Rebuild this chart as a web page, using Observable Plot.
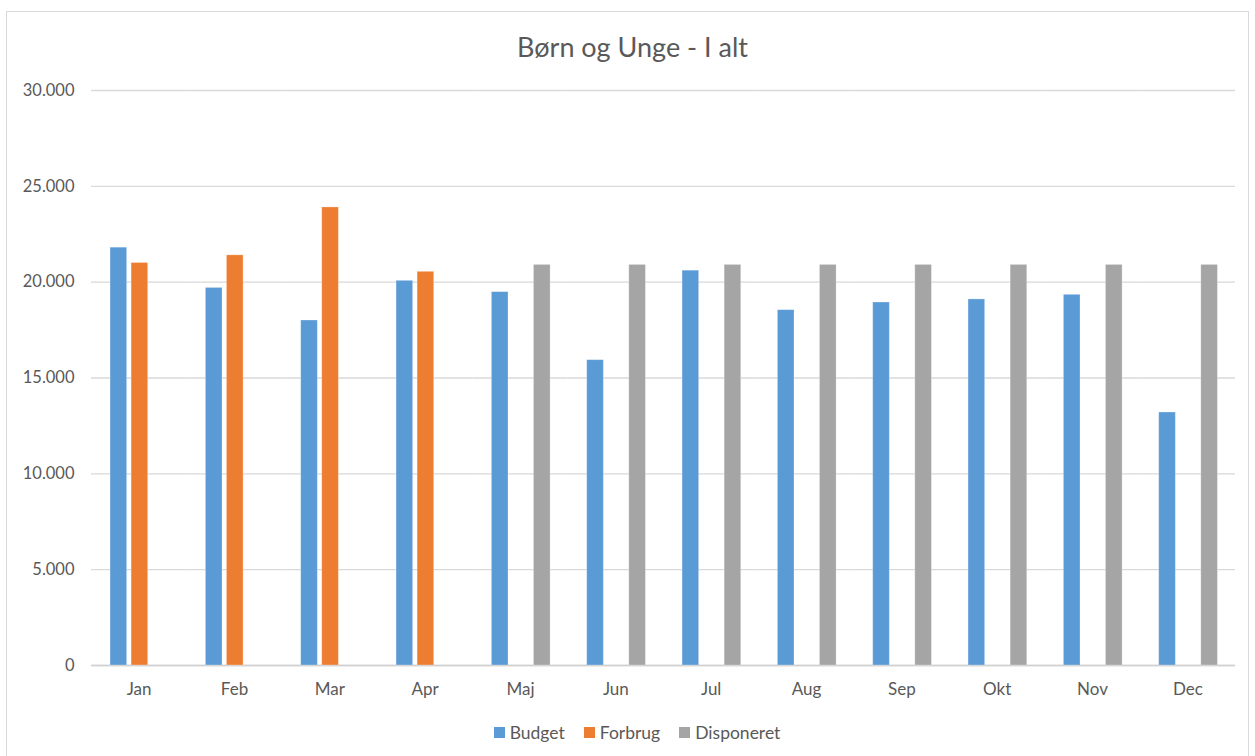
<!DOCTYPE html>
<html>
<head>
<meta charset="utf-8">
<script src="https://cdn.jsdelivr.net/npm/d3@7"></script>
<script src="https://cdn.jsdelivr.net/npm/@observablehq/plot@0.6"></script>
<style>
  html, body { margin: 0; padding: 0; background: #fff; }
  body { width: 1255px; height: 756px; position: relative; overflow: hidden; font-family: Lato, "Open Sans", sans-serif; color: #595959; }
  #frame { position: absolute; left: 6px; top: 11px; width: 1243px; height: 750px; border: 1px solid #d9d9d9; box-sizing: border-box; }
  #title { position: absolute; left: 0; top: 31px; width: 1255px; padding-left: 10px; box-sizing: border-box; text-align: center; font-size: 27px; line-height: 32px; color: #595959; }
  #chart { position: absolute; left: 0; top: 80px; }
  #legend { position: absolute; left: 0; top: 716px; width: 1255px; padding-left: 38px; box-sizing: border-box; display: flex; justify-content: center; }
  .lg-swatch { margin-right: 19px !important; }
  .lg-swatch > svg { margin-right: 5px !important; }
</style>
</head>
<body>
<div id="frame"></div>
<div id="title">Børn og Unge - I alt</div>
<div id="chart"></div>
<div id="legend"></div>
<script>
const months = ["Jan", "Feb", "Mar", "Apr", "Maj", "Jun", "Jul", "Aug", "Sep", "Okt", "Nov", "Dec"];
const series = ["Budget", "Forbrug", "Disponeret"];
const colors = ["#5B9BD5", "#ED7D31", "#A5A5A5"];
const budget = [21800, 19700, 18000, 20070, 19480, 15930, 20600, 18540, 18940, 19100, 19340, 13200];
const forbrug = [21000, 21400, 23900, 20540, null, null, null, null, null, null, null, null];
const disponeret = [null, null, null, null, 20900, 20900, 20900, 20900, 20900, 20900, 20900, 20900];
const yTicks = [0, 5000, 10000, 15000, 20000, 25000, 30000];

const values = { Budget: budget, Forbrug: forbrug, Disponeret: disponeret };
const data = [];
months.forEach((m, i) => {
  series.forEach(s => {
    const v = values[s][i];
    if (v != null) data.push({ month: m, series: s, value: v });
  });
});

const locale = d3.formatLocale({ decimal: ",", thousands: ".", grouping: [3], currency: ["", " kr."] });
const fmt = locale.format(",d");

const chart = Plot.plot({
  width: 1255,
  height: 630,
  marginTop: 10,
  marginBottom: 45,
  marginLeft: 91,
  marginRight: 20,
  style: { fontFamily: "Lato, 'Open Sans', sans-serif", color: "#595959", background: "transparent", overflow: "visible" },
  fx: { domain: months, padding: 0, label: null, round: false },
  x: { domain: series, axis: null, paddingInner: 0.21, paddingOuter: 0.87, round: false, align: 0.52 },
  y: { domain: [0, 30000], label: null },
  color: { domain: series, range: colors },
  marks: [
    Plot.gridY(yTicks, { stroke: "#d9d9d9", strokeOpacity: 1, strokeWidth: 1.3 }),
    Plot.ruleY([0], { stroke: "#d0d0d0", strokeWidth: 1.3 }),
    Plot.barY(data, { fx: "month", x: "series", y: "value", fill: "series", stroke: "white", strokeOpacity: 0.35, strokeWidth: 0.8 }),
    Plot.axisY(yTicks, { tickFormat: fmt, tickSize: 0, tickPadding: 17, fontSize: 16.5, fill: "#595959", label: null }),
    Plot.axisFx({ anchor: "bottom", tickSize: 0, tickPadding: 17, fontSize: 17, fill: "#595959", label: null })
  ]
});
document.getElementById("chart").appendChild(chart);

const legend = Plot.legend({
  color: { type: "categorical", domain: series, range: colors },
  legend: "swatches",
  className: "lg",
  swatchSize: 11,
  style: { fontFamily: "Lato, 'Open Sans', sans-serif", fontSize: "17.5px", color: "#595959" }
});
document.getElementById("legend").appendChild(legend);
</script>
</body>
</html>
